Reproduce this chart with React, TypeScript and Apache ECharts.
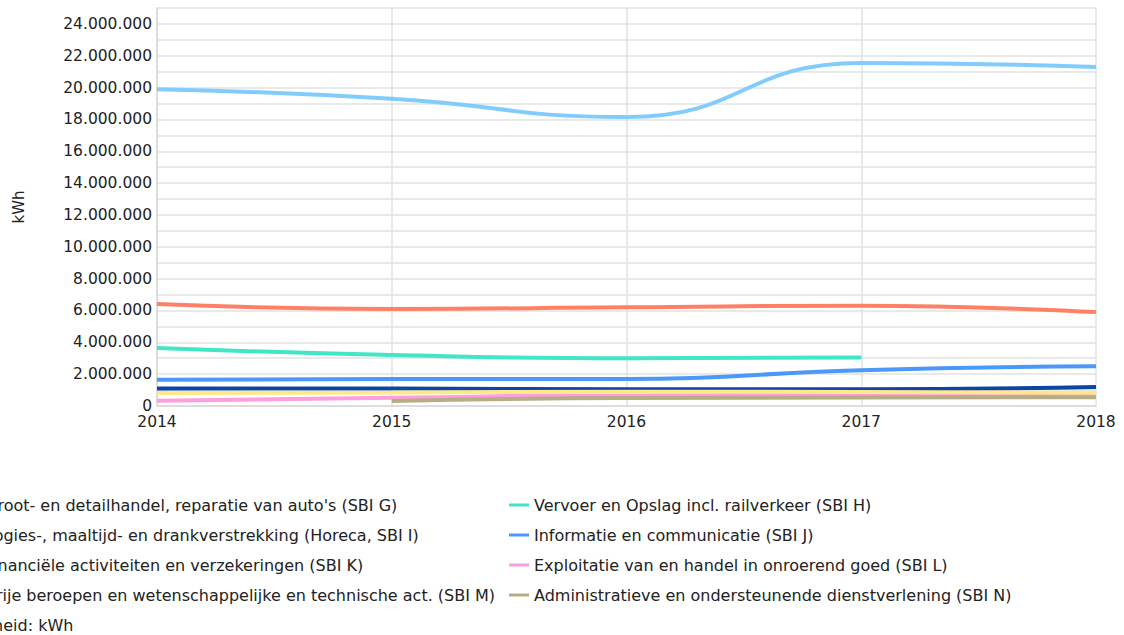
import React, { useEffect, useRef } from "react";
import * as echarts from "echarts";

const years = ["2014", "2015", "2016", "2017", "2018"];

const nameG = "Groot- en detailhandel, reparatie van auto's (SBI G)";
const nameH = "Vervoer en Opslag incl. railverkeer (SBI H)";
const nameI = "Logies-, maaltijd- en drankverstrekking (Horeca, SBI I)";
const nameJ = "Informatie en communicatie (SBI J)";
const nameK = "Financiële activiteiten en verzekeringen (SBI K)";
const nameL = "Exploitatie van en handel in onroerend goed (SBI L)";
const nameM = "Vrije beroepen en wetenschappelijke en technische act. (SBI M)";
const nameN = "Administratieve en ondersteunende dienstverlening (SBI N)";

const valuesG = [19900000, 19300000, 18150000, 21550000, 21300000];
const valuesH = [3650000, 3200000, 3000000, 3050000, null];
const valuesI = [6400000, 6100000, 6200000, 6300000, 5900000];
const valuesJ = [1650000, 1700000, 1700000, 2250000, 2500000];
const valuesK = [1100000, 1100000, 1050000, 1050000, 1200000];
const valuesL = [330000, 520000, 680000, 690000, 690000];
const valuesM = [820000, 850000, 900000, 880000, 840000];
const valuesN = [null, 320000, 500000, 530000, 550000];

const seriesNames = [nameG, nameH, nameI, nameJ, nameK, nameL, nameM, nameN];
const seriesValues = [valuesG, valuesH, valuesI, valuesJ, valuesK, valuesL, valuesM, valuesN];
const seriesColors = ["#80cdfd", "#40e6c6", "#ff8068", "#4c98f8", "#0a46a8", "#ff9ede", "#ffe88a", "#b5ad86"];

const leftLegend = [nameG, nameI, nameK, nameM];
const rightLegend = [nameH, nameJ, nameL, nameN];
const unitText = "Eenheid: kWh";
const yAxisName = "kWh";

const FONT = "DejaVu Sans";
const TEXT = "#222222";

function fmt(v: number): string {
  if (v % 2000000 !== 0) return "";
  return String(v).replace(/\B(?=(\d{3})+(?!\d))/g, ".");
}

export default function App() {
  const ref = useRef<HTMLDivElement>(null);
  useEffect(() => {
    if (!ref.current) return;
    const chart = echarts.init(ref.current, null, { renderer: "svg" });
    const legendCommon = {
      orient: "vertical" as const,
      top: 497,
      padding: 0,
      itemWidth: 20,
      itemHeight: 3,
      itemGap: 14,
      icon: "rect",
      textStyle: { fontFamily: FONT, fontSize: 16, color: TEXT, lineHeight: 16 },
    };
    chart.setOption({
      animation: false,
      backgroundColor: "#ffffff",
      textStyle: { fontFamily: FONT },
      grid: { left: 157, right: 28, top: 8, bottom: 229, containLabel: false },
      legend: [
        { ...legendCommon, left: -40, data: leftLegend },
        { ...legendCommon, left: 509, data: rightLegend },
      ],
      graphic: [
        {
          type: "text",
          left: -37,
          top: 617,
          style: { text: unitText, fontFamily: FONT, fontSize: 16, fill: TEXT },
        },
      ],
      xAxis: {
        type: "category",
        data: years,
        boundaryGap: false,
        axisLine: { show: true, lineStyle: { color: "#d8d8d8", width: 1.5 } },
        axisTick: { show: false },
        axisLabel: { fontFamily: FONT, fontSize: 15.5, color: TEXT, margin: 8 },
        splitLine: { show: true, lineStyle: { color: "#e2e2e2", width: 1.5 } },
      },
      yAxis: {
        type: "value",
        min: 0,
        max: 25000000,
        interval: 1000000,
        name: yAxisName,
        nameLocation: "middle",
        nameGap: 131,
        nameTextStyle: { fontFamily: FONT, fontSize: 15, color: TEXT },
        axisLine: { show: true, lineStyle: { color: "#d8d8d8", width: 1.5 } },
        axisTick: { show: false },
        axisLabel: {
          fontFamily: FONT,
          fontSize: 15.5,
          color: TEXT,
          margin: 5,
          formatter: (v: number) => fmt(v),
        },
        splitLine: { show: true, lineStyle: { color: "#e2e2e2", width: 1.5 } },
      },
      series: seriesNames.map((name, i) => ({
        name,
        type: "line",
        data: seriesValues[i],
        smooth: 0.5,
        showSymbol: false,
        symbol: "none",
        connectNulls: false,
        color: seriesColors[i],
        lineStyle: { width: 4, color: seriesColors[i] },
      })),
    });
    return () => chart.dispose();
  }, []);
  return (
    <div
      ref={ref}
      style={{ position: "fixed", left: 0, top: 0, width: 1124, height: 635, background: "#fff" }}
    />
  );
}
